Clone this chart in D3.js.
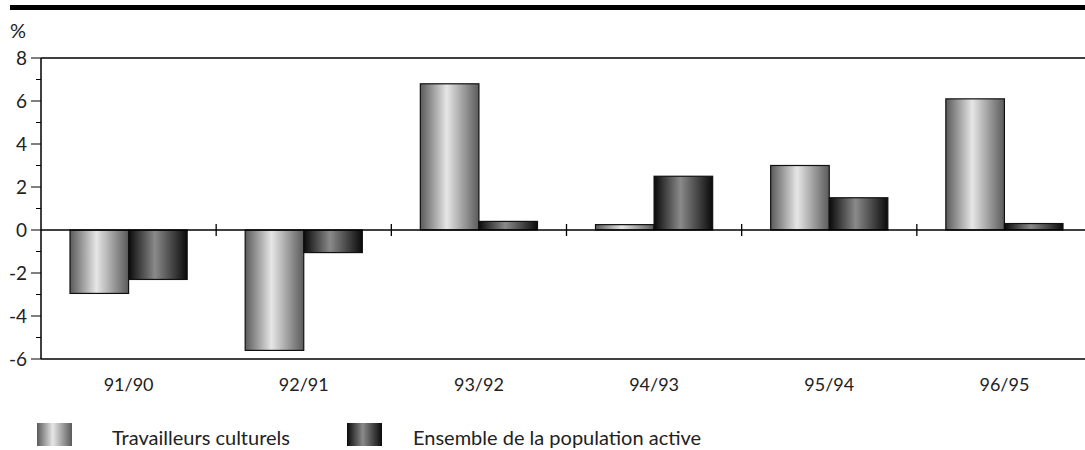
<!DOCTYPE html>
<html><head><meta charset="utf-8">
<script src="https://cdn.jsdelivr.net/npm/d3@7"></script>
<style>body{margin:0;background:#fff}svg{display:block}text{font-family:Lato,"Open Sans",sans-serif;fill:#222}</style>
</head><body><svg id="c" width="1085" height="450"></svg>
<script>
const categories = ["91/90","92/91","93/92","94/93","95/94","96/95"];
const seriesNames = ["Travailleurs culturels","Ensemble de la population active"];
const culturels = [-2.95,-5.6,6.8,0.25,3.0,6.1];
const ensemble = [-2.3,-1.05,0.4,2.5,1.5,0.3];
const yTicks = [-6,-4,-2,0,2,4,6,8];

const svg = d3.select("#c");
const defs = svg.append("defs");
function grad(id, edge, mid){
  const g = defs.append("linearGradient").attr("id",id).attr("x1","0").attr("x2","1").attr("y1","0").attr("y2","0");
  g.append("stop").attr("offset","0%").attr("stop-color",edge);
  g.append("stop").attr("offset","45%").attr("stop-color",mid);
  g.append("stop").attr("offset","100%").attr("stop-color",edge);
}
grad("g1","#5a5a5a","#e6e6e6");
grad("g2","#0a0a0a","#8a8a8a");
const fills = ["url(#g1)","url(#g2)"];

svg.append("rect").attr("x",10).attr("y",5).attr("width",1075).attr("height",5).attr("fill","#000");
svg.append("text").attr("x",10).attr("y",38).attr("font-size",20).text("%");

const x0 = d3.scaleBand().domain(categories).range([41,1092]).paddingInner(0).paddingOuter(0);
const x1 = d3.scaleBand().domain([0,1]).range([29, x0.bandwidth()-29]).paddingInner(0).paddingOuter(0);
const y = d3.scaleLinear().domain([-6,8]).range([359,58]);

svg.append("line").attr("x1",41).attr("x2",1085).attr("y1",y(8)).attr("y2",y(8)).attr("stroke","#000").attr("stroke-width",1.3);
svg.append("line").attr("x1",41).attr("x2",1085).attr("y1",y(-6)).attr("y2",y(-6)).attr("stroke","#000").attr("stroke-width",1.3);

const data = categories.map((c,i)=>({c, v:[culturels[i], ensemble[i]]}));
const gCat = svg.append("g").selectAll("g").data(data).join("g").attr("transform",d=>`translate(${x0(d.c)},0)`);
gCat.selectAll("rect").data(d=>d.v.map((v,k)=>({v,k}))).join("rect")
  .attr("x",d=>x1(d.k)).attr("width",x1.bandwidth())
  .attr("y",d=>y(Math.max(0,d.v))).attr("height",d=>Math.abs(y(d.v)-y(0)))
  .attr("fill",d=>fills[d.k]).attr("stroke","#111").attr("stroke-width",1.2);

const yAxis = svg.append("g").attr("transform","translate(41,0)");
yAxis.append("line").attr("x1",0).attr("x2",0).attr("y1",y(8)).attr("y2",y(-6)).attr("stroke","#000").attr("stroke-width",1.5);
const minor = d3.range(-5,8,2);
yAxis.selectAll("line.mn").data(minor).join("line").attr("class","mn").attr("x1",-5).attr("x2",0).attr("y1",d=>y(d)).attr("y2",d=>y(d)).attr("stroke","#000");
yAxis.selectAll("line.mj").data(yTicks).join("line").attr("class","mj").attr("x1",-10).attr("x2",0).attr("y1",d=>y(d)).attr("y2",d=>y(d)).attr("stroke","#000");
yAxis.selectAll("text").data(yTicks).join("text").attr("x",-14).attr("y",d=>y(d)).attr("dy","0.36em").attr("text-anchor","end").attr("font-size",19).text(d=>d);

svg.append("line").attr("x1",41).attr("x2",1085).attr("y1",y(0)).attr("y2",y(0)).attr("stroke","#000").attr("stroke-width",1.3);
svg.selectAll("line.ct").data(categories.slice(1)).join("line").attr("class","ct")
  .attr("x1",d=>x0(d)).attr("x2",d=>x0(d)).attr("y1",y(0)-6).attr("y2",y(0)+6).attr("stroke","#000").attr("stroke-width",1.3);

svg.selectAll("text.cl").data(categories).join("text").attr("class","cl")
  .attr("x",d=>x0(d)+x0.bandwidth()/2).attr("y",391).attr("text-anchor","middle").attr("font-size",18).text(d=>d);

const lx = [37,347], tx=[112,413];
seriesNames.forEach((n,k)=>{
  svg.append("rect").attr("x",lx[k]).attr("y",423).attr("width",35).attr("height",23).attr("fill",fills[k]);
  svg.append("text").attr("x",tx[k]).attr("y",445).attr("font-size",20).text(n);
});
</script></body></html>
